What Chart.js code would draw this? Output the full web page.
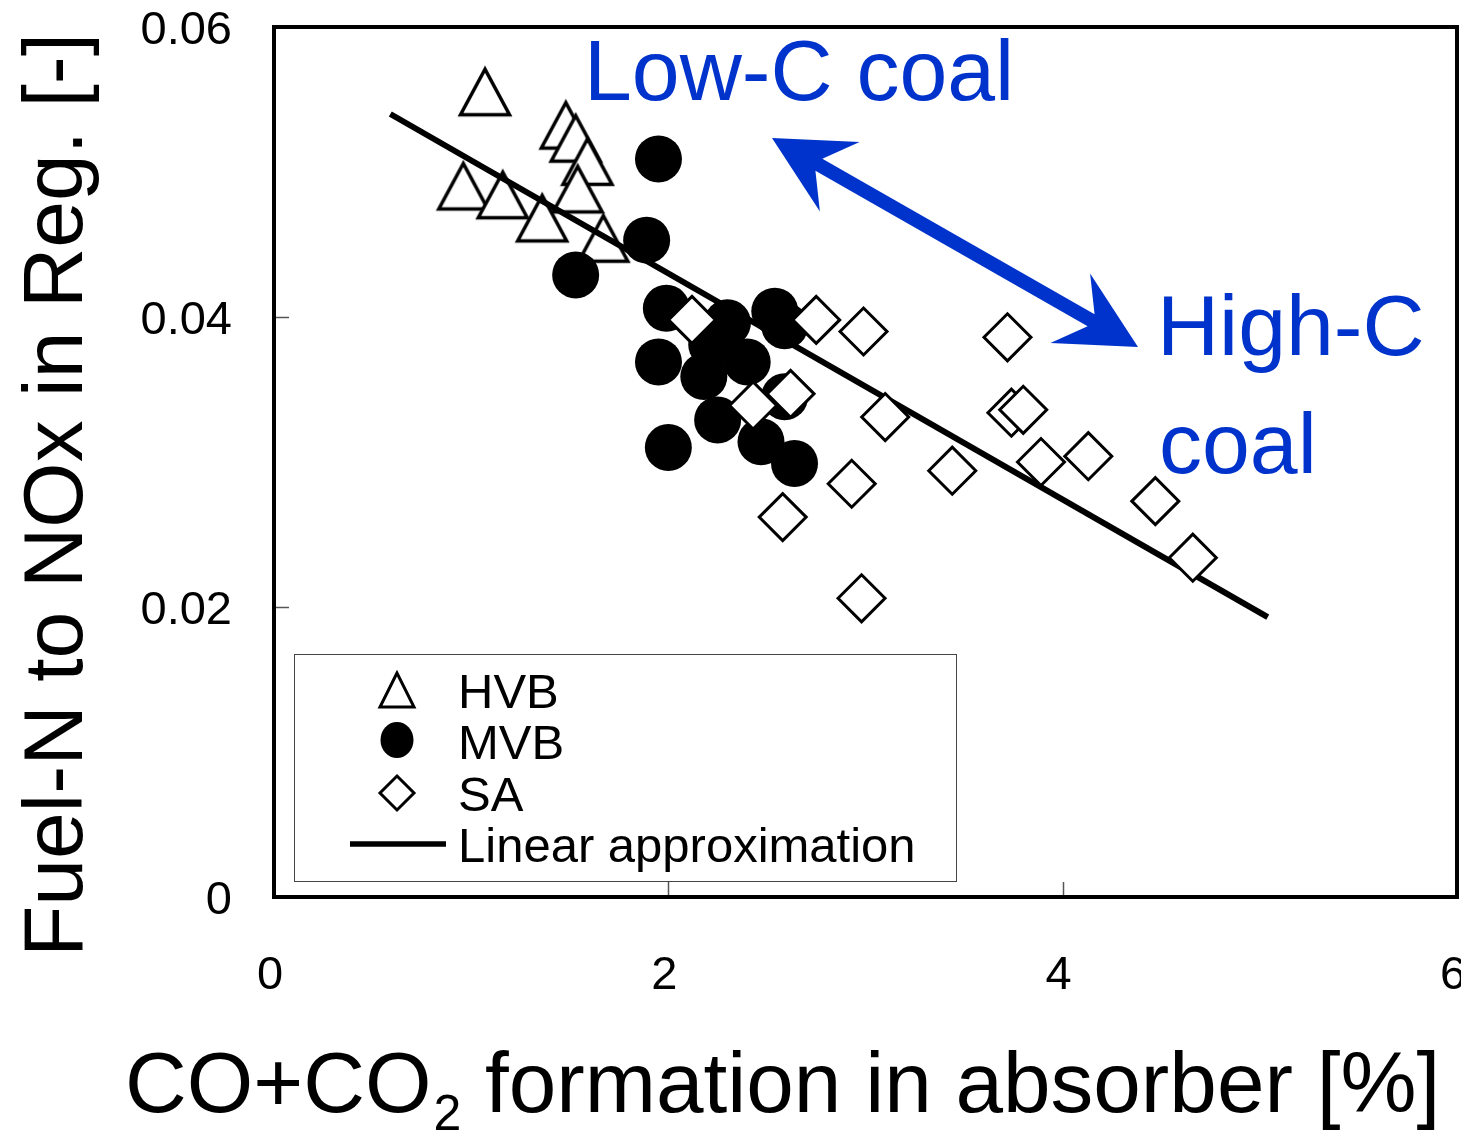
<!DOCTYPE html>
<html><head><meta charset="utf-8">
<script src="https://cdn.jsdelivr.net/npm/chart.js@4/dist/chart.umd.min.js"></script>
<style>html,body{margin:0;padding:0;background:#fff;}canvas{display:block;}</style>
</head><body>
<canvas id="c" width="1461" height="1133"></canvas>
<script>
// ---- data ----
const hvbX = [1.07, 1.48, 1.53, 1.59, 1.54, 0.96, 1.16, 1.36, 1.67];
const hvbY = [0.0555, 0.0532, 0.0523, 0.0507, 0.0488, 0.0490, 0.0484, 0.0468, 0.0454];
const mvbX = [1.95, 1.89, 1.53, 1.99, 2.30, 2.54, 2.59, 2.22, 1.95, 2.18, 2.40, 2.25, 2.00, 2.47, 2.64, 2.59];
const mvbY = [0.0509, 0.0453, 0.0429, 0.0406, 0.0396, 0.0404, 0.0394, 0.0381, 0.0369, 0.0359, 0.0369, 0.0329, 0.0310, 0.0314, 0.0299, 0.0345];
const saX = [2.12, 2.75, 2.99, 2.62, 2.43, 3.10, 2.93, 2.58, 2.98, 3.72, 3.74, 3.80, 3.44, 3.89, 4.13, 4.47, 4.66];
const saY = [0.0398, 0.0398, 0.0390, 0.0347, 0.0339, 0.0331, 0.0285, 0.0262, 0.0206, 0.0386, 0.0334, 0.0336, 0.0294, 0.0300, 0.0304, 0.0273, 0.0234];
const fitX = [0.59, 5.04];
const fitY = [0.0540, 0.0193];
const xTicks = [0, 2, 4, 6];
const yTicks = [0, 0.02, 0.04, 0.06];
const yTickLabels = ['0', '0.02', '0.04', '0.06'];
const legendLabels = ['HVB', 'MVB', 'SA', 'Linear approximation'];
const yTitle = 'Fuel-N to NOx in Reg. [-]';
const xTitleParts = ['CO+CO', '2', ' formation in absorber [%]'];
const noteLow = 'Low-C coal';
const noteHigh = ['High-C', 'coal'];

const FONT = '"Liberation Sans", Arial, sans-serif';
const BLUE = '#0033CC';
const toPts = (xs, ys) => xs.map((x, i) => ({x, y: ys[i]}));

// triangle marker image (isosceles, open)
const tri = document.createElement('canvas');
tri.width = 56; tri.height = 56;
{
  const t = tri.getContext('2d');
  t.lineWidth = 3.5; t.lineJoin = 'miter'; t.strokeStyle = '#000'; t.fillStyle = '#fff';
  t.beginPath(); t.moveTo(28, 5); t.lineTo(3.5, 50.5); t.lineTo(52.5, 50.5); t.closePath();
  t.fill(); t.stroke();
}

const decor = {
  id: 'decor',
  afterDraw(chart) {
    const ctx = chart.ctx, a = chart.chartArea;
    const xs = chart.scales.x, ys = chart.scales.y;
    ctx.save();
    // tick labels
    ctx.fillStyle = '#000';
    ctx.font = '47px ' + FONT; ctx.textAlign = 'center'; ctx.textBaseline = 'middle';
    xTicks.forEach(v => ctx.fillText(String(v), xs.getPixelForValue(v) - 4, 976));
    ctx.textAlign = 'right';
    yTicks.forEach((v, i) => ctx.fillText(yTickLabels[i], a.left - 42, ys.getPixelForValue(v) + 4));
    ctx.textBaseline = 'alphabetic';
    // inward ticks
    ctx.strokeStyle = '#555'; ctx.lineWidth = 1.5;
    xTicks.forEach(v => {
      if (v === 0 || v === 6) return;
      const px = Math.round(xs.getPixelForValue(v)) + 0.5;
      ctx.beginPath(); ctx.moveTo(px, a.bottom); ctx.lineTo(px, a.bottom - 15); ctx.stroke();
    });
    yTicks.forEach(v => {
      if (v === 0 || v === 0.06) return;
      const py = Math.round(ys.getPixelForValue(v)) + 0.5;
      ctx.beginPath(); ctx.moveTo(a.left, py); ctx.lineTo(a.left + 15, py); ctx.stroke();
    });
    // plot border
    ctx.strokeStyle = '#000'; ctx.lineWidth = 4;
    ctx.strokeRect(a.left, a.top, a.right - a.left, a.bottom - a.top);

    // legend box
    ctx.fillStyle = '#fff'; ctx.fillRect(294, 654, 662, 227);
    ctx.strokeStyle = '#444'; ctx.lineWidth = 1;
    ctx.strokeRect(294.5, 654.5, 662, 227);
    ctx.strokeStyle = '#000'; ctx.fillStyle = '#fff'; ctx.lineWidth = 3;
    ctx.beginPath(); ctx.moveTo(397, 673); ctx.lineTo(380, 707); ctx.lineTo(414, 707); ctx.closePath();
    ctx.fill(); ctx.stroke();
    ctx.fillStyle = '#000';
    ctx.beginPath(); ctx.ellipse(397, 740, 16.5, 18, 0, 0, Math.PI * 2); ctx.fill();
    ctx.fillStyle = '#fff';
    ctx.beginPath(); ctx.moveTo(397, 776); ctx.lineTo(414, 793); ctx.lineTo(397, 810); ctx.lineTo(380, 793); ctx.closePath();
    ctx.fill(); ctx.stroke();
    ctx.lineWidth = 5.5;
    ctx.beginPath(); ctx.moveTo(350, 844); ctx.lineTo(446, 844); ctx.stroke();
    ctx.fillStyle = '#000';
    ctx.font = '49px ' + FONT; ctx.textAlign = 'left';
    const lb = [708, 759, 811, 862];
    legendLabels.forEach((s, i) => ctx.fillText(s, 458, lb[i]));

    // annotations
    ctx.fillStyle = BLUE;
    ctx.font = '86px ' + FONT;
    ctx.fillText(noteLow, 584, 100);
    ctx.fillText(noteHigh[0], 1157, 355);
    ctx.fillText(noteHigh[1], 1159, 473);

    // double arrow
    const T1 = [772, 138], T2 = [1138, 347];
    const dx = T2[0] - T1[0], dy = T2[1] - T1[1], L = Math.hypot(dx, dy);
    const u = [dx / L, dy / L], n = [-u[1], u[0]];
    const H = 78, W = 40, N = 54, s = 7;
    const P = (base, al, pe) => [base[0] + al * u[0] + pe * n[0], base[1] + al * u[1] + pe * n[1]];
    const pts = [T1, P(T1, H, W), P(T1, N, s), P(T2, -N, s), P(T2, -H, W), T2,
                 P(T2, -H, -W), P(T2, -N, -s), P(T1, N, -s), P(T1, H, -W)];
    ctx.beginPath(); ctx.moveTo(pts[0][0], pts[0][1]);
    pts.slice(1).forEach(p => ctx.lineTo(p[0], p[1]));
    ctx.closePath(); ctx.fill();

    // axis titles
    ctx.fillStyle = '#000';
    ctx.save();
    ctx.translate(82, 495); ctx.rotate(-Math.PI / 2);
    ctx.font = '84px ' + FONT; ctx.textAlign = 'center';
    ctx.fillText(yTitle, 0, 0);
    ctx.restore();

    ctx.textAlign = 'left';
    let x = 125;
    ctx.font = '85.5px ' + FONT;
    ctx.fillText(xTitleParts[0], x, 1112); x += ctx.measureText(xTitleParts[0]).width;
    ctx.font = '50px ' + FONT;
    ctx.fillText(xTitleParts[1], x + 2, 1130); x += ctx.measureText(xTitleParts[1]).width + 2;
    ctx.font = '85.5px ' + FONT;
    ctx.fillText(xTitleParts[2], x, 1112);
    ctx.restore();
  }
};

new Chart(document.getElementById('c'), {
  type: 'scatter',
  data: {
    datasets: [
      { label: 'SA', data: toPts(saX, saY), pointStyle: 'rectRot', pointRadius: 23.5, pointHoverRadius: 23.5,
        pointBackgroundColor: '#fff', pointBorderColor: '#000', pointBorderWidth: 3 },
      { label: 'MVB', data: toPts(mvbX, mvbY), pointStyle: 'circle', pointRadius: 23.5, pointHoverRadius: 23.5,
        pointBackgroundColor: '#000', pointBorderColor: '#000', pointBorderWidth: 0 },
      { label: 'Linear approximation', type: 'line', data: toPts(fitX, fitY), showLine: true,
        borderColor: '#000', borderWidth: 6, pointRadius: 0, fill: false },
      { label: 'HVB', data: toPts(hvbX, hvbY), pointStyle: tri, pointRadius: 28 }
    ]
  },
  options: {
    responsive: false, animation: false, devicePixelRatio: 1,
    layout: { autoPadding: false, padding: { top: 27, right: 4, left: 0, bottom: 0 } },
    plugins: { legend: { display: false }, tooltip: { enabled: false } },
    scales: {
      x: {
        type: 'linear', min: 0, max: 6,
        afterBuildTicks: s => { s.ticks = xTicks.map(v => ({value: v})); },
        ticks: { display: false },
        grid: { display: false, drawTicks: false }, border: { display: false },
        afterFit: s => { s.height = 1133 - 897; }
      },
      y: {
        type: 'linear', min: 0, max: 0.06,
        afterBuildTicks: s => { s.ticks = yTicks.map(v => ({value: v})); },
        ticks: { display: false },
        grid: { display: false, drawTicks: false }, border: { display: false },
        afterFit: s => { s.width = 274; }
      }
    }
  },
  plugins: [decor]
});
</script>
</body></html>
